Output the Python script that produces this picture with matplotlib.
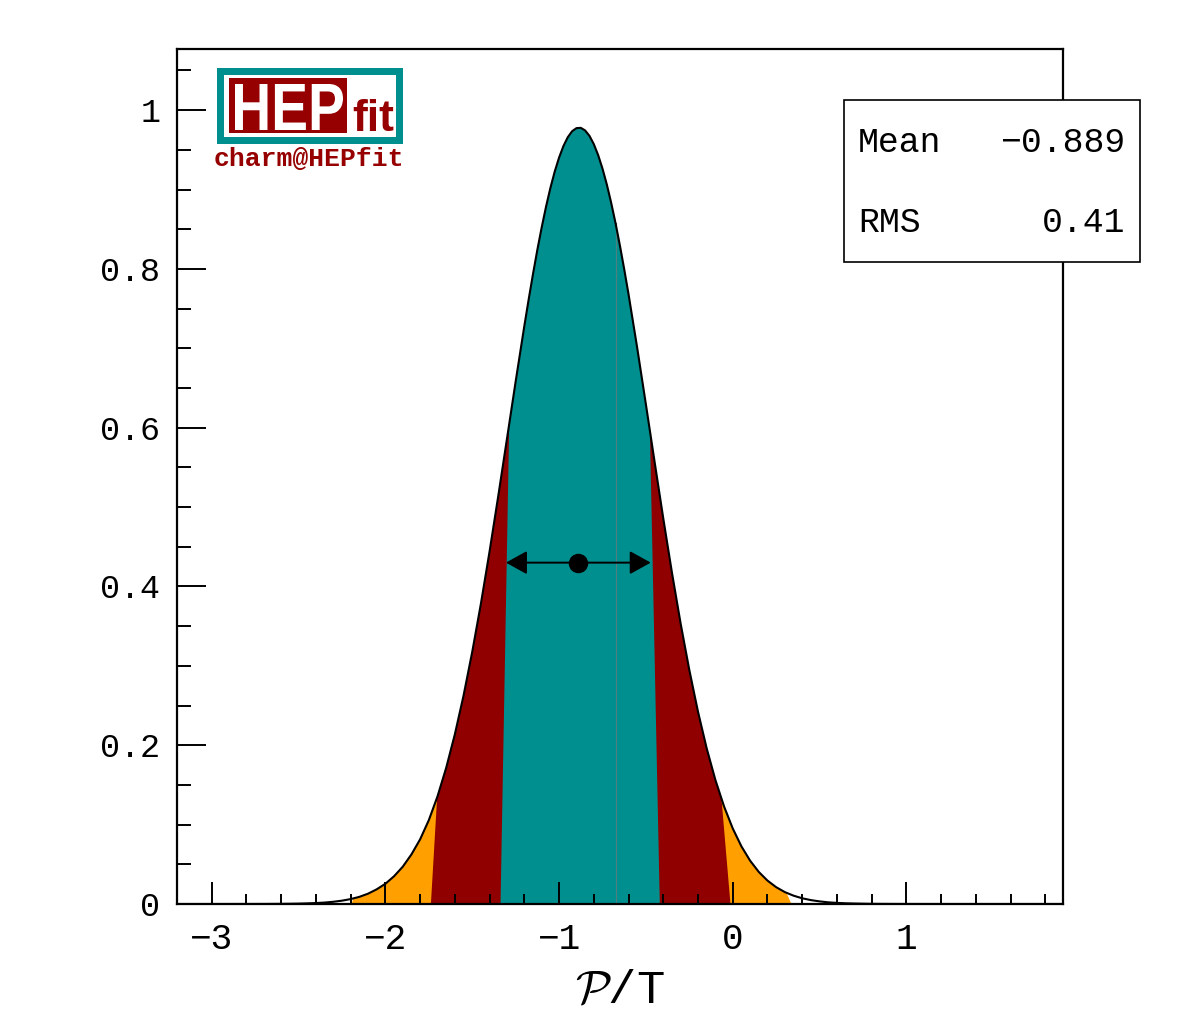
import numpy as np
import matplotlib.pyplot as plt
from matplotlib.ticker import MultipleLocator
from matplotlib.patches import Rectangle, Polygon, PathPatch
from matplotlib.textpath import TextPath
from matplotlib.font_manager import FontProperties
from matplotlib.transforms import Affine2D

plt.rcParams['mathtext.fontset'] = 'cm'

# posterior of P/T
x_pts = [-3.2, -3.0, -2.8, -2.7,
         -2.60, -2.55, -2.50, -2.45, -2.40, -2.35, -2.30, -2.25, -2.20, -2.15,
         -2.10, -2.05, -2.00, -1.95, -1.90, -1.85, -1.80, -1.75, -1.70, -1.65,
         -1.60, -1.55, -1.50, -1.45, -1.40, -1.35, -1.30, -1.25, -1.20, -1.175,
         -1.15, -1.125, -1.10, -1.075, -1.05, -1.025, -1.00, -0.975, -0.95, -0.925,
         -0.90, -0.875, -0.85, -0.825, -0.80, -0.775, -0.75, -0.725, -0.70, -0.675,
         -0.65, -0.625, -0.60, -0.55, -0.50, -0.45, -0.40, -0.35, -0.30, -0.25,
         -0.20, -0.15, -0.10, -0.05, 0.00, 0.05, 0.10, 0.15, 0.20, 0.25,
         0.30, 0.35, 0.40, 0.45, 0.50, 0.55, 0.60, 0.65, 0.70, 0.75, 0.80,
         0.9, 1.0, 1.2, 1.5, 1.9]
y_pts = [0.0, 0.0, 0.00003, 0.00007,
         0.0002, 0.0003, 0.0005, 0.0008, 0.0012, 0.0018, 0.0028, 0.0042, 0.0062, 0.0090,
         0.0130, 0.0185, 0.0255, 0.0350, 0.0470, 0.0625, 0.0815, 0.1056, 0.1356, 0.1715,
         0.2138, 0.2625, 0.3176, 0.3784, 0.4443, 0.5141, 0.5860, 0.6581, 0.7281, 0.7616,
         0.7937, 0.8241, 0.8523, 0.8784, 0.9019, 0.9226, 0.9402, 0.9547, 0.9658, 0.9734,
         0.9773, 0.9777, 0.9744, 0.9676, 0.9572, 0.9434, 0.9264, 0.9063, 0.8833, 0.8578,
         0.8298, 0.7998, 0.7681, 0.7004, 0.6293, 0.5571, 0.4858, 0.4174, 0.3533, 0.2948,
         0.2422, 0.1961, 0.1564, 0.1229, 0.0952, 0.0726, 0.0546, 0.0404, 0.0295, 0.0212,
         0.0150, 0.0105, 0.0072, 0.0049, 0.0033, 0.0021, 0.0014, 0.0009, 0.0006, 0.0004, 0.0002,
         0.0001, 0.00003, 0.0, 0.0, 0.0]

mean_val = -0.889
rms_val = 0.41
interval = (-1.306, -0.472)
marker_y = 0.43

# probability bands, widest first: edge at the axis and where it meets the curve
band_lo_bottom = [-2.194, -1.738, -1.337]
band_lo_top = [-2.185, -1.702, -1.287]
band_hi_top = [0.309, -0.065, -0.477]
band_hi_bottom = [0.338, -0.013, -0.420]
band_colors = ['#ffa000', '#900000', '#008f8f']
seam_x = -0.675

W, H = 1182, 1017


def fx(px):
    return px / W


def fy(py):
    return 1 - py / H


mono = 'Liberation Mono'
red = '#960000'
teal = '#008f8f'

fig = plt.figure(figsize=(W / 100, H / 100), dpi=100)
ax = fig.add_axes([fx(177), fy(904), fx(1062.7) - fx(177), fy(49) - fy(904)])

x = np.array(x_pts)
y = np.array(y_pts)
for blo, tlo, thi, bhi, c in zip(band_lo_bottom, band_lo_top, band_hi_top,
                                 band_hi_bottom, band_colors):
    inside = (x > tlo) & (x < thi)
    verts = [(blo, 0), (tlo, np.interp(tlo, x, y))]
    verts += list(zip(x[inside], y[inside]))
    verts += [(thi, np.interp(thi, x, y)), (bhi, 0)]
    ax.add_patch(Polygon(verts, closed=True, facecolor=c, edgecolor='none', zorder=1))

ax.plot([seam_x, seam_x], [0, np.interp(seam_x, x, y)], color='#4f7f7e', lw=0.8, zorder=1.5)
ax.plot(x, y, color='black', lw=1.5, zorder=3)

ax.annotate('', xy=(interval[0], marker_y), xytext=(interval[1], marker_y),
            arrowprops=dict(arrowstyle='<|-|>,head_length=0.65,head_width=0.36',
                            mutation_scale=20, color='black', lw=1.4,
                            shrinkA=0, shrinkB=0), zorder=4)
ax.plot([mean_val], [marker_y], 'o', color='black', ms=13, zorder=5)

ax.set_xlim(-3.2, 1.9)
ax.set_ylim(0, 1.077)
ax.set_xticks([-3, -2, -1, 0, 1])
ax.set_xticklabels(['\u22123', '\u22122', '\u22121', '0', '1'])
ax.xaxis.set_minor_locator(MultipleLocator(0.2))
ax.set_yticks([0, 0.2, 0.4, 0.6, 0.8, 1.0])
ax.set_yticklabels(['0', '0.2', '0.4', '0.6', '0.8', '1'])
ax.yaxis.set_minor_locator(MultipleLocator(0.05))
ax.tick_params(axis='x', which='major', direction='in', length=15.8, width=1.4,
               pad=13, labelsize=26, top=False)
ax.tick_params(axis='x', which='minor', direction='in', length=7.5, width=1.4, top=False)
ax.tick_params(axis='y', which='major', direction='in', length=21, width=1.4,
               pad=12, labelsize=24, right=False)
ax.tick_params(axis='y', which='minor', direction='in', length=10, width=1.4, right=False)
for lab in ax.get_xticklabels() + ax.get_yticklabels():
    lab.set_fontfamily(mono)
for s in ax.spines.values():
    s.set_linewidth(1.6)

ax.set_xlabel(r'$\mathcal{P}$/T', fontsize=34, fontfamily=mono, labelpad=8)

# stats box
fig.add_artist(Rectangle((fx(844), fy(262.3)), fx(1140) - fx(844), fy(100) - fy(262.3),
                         transform=fig.transFigure, facecolor='white',
                         edgecolor='black', lw=1.2))
fig.text(fx(858), fy(152), 'Mean', fontsize=25, fontfamily=mono, va='baseline')
fig.text(fx(1125), fy(152), f'{mean_val:.3f}'.replace('-', '\u2212'),
         fontsize=25, fontfamily=mono, va='baseline', ha='right')
fig.text(fx(858), fy(232), 'RMS', fontsize=25, fontfamily=mono, va='baseline')
fig.text(fx(1125), fy(232), f'{rms_val:.2f}', fontsize=25, fontfamily=mono,
         va='baseline', ha='right')

# HEPfit logo
fig.add_artist(Rectangle((fx(216.7), fy(144.3)), fx(403.3) - fx(216.7), fy(67.7) - fy(144.3),
                         transform=fig.transFigure, facecolor=teal, edgecolor='none'))
fig.add_artist(Rectangle((fx(223.7), fy(137.3)), fx(396.3) - fx(223.7), fy(74.7) - fy(137.3),
                         transform=fig.transFigure, facecolor='white', edgecolor='none'))
fig.add_artist(Rectangle((fx(229.3), fy(133.3)), fx(347.3) - fx(229.3), fy(78.3) - fy(133.3),
                         transform=fig.transFigure, facecolor=red, edgecolor='none'))
tp = TextPath((0, 0), 'HEP', size=100, prop=FontProperties(family='Liberation Sans', weight='bold'))
ext = tp.get_extents()
tr = (Affine2D().translate(-ext.x0, -ext.y0).scale(108 / ext.width, 46 / ext.height)
      .translate(235, H - 130).scale(1 / 100) + fig.dpi_scale_trans)
fig.add_artist(PathPatch(tp, transform=tr, facecolor='white', edgecolor='none'))
fig.text(fx(352), fy(131), 'fit', fontsize=32, fontfamily='Liberation Sans',
         fontweight='bold', color=red, va='baseline')
fig.text(fx(214), fy(166), 'charm@HEPfit', fontsize=19, fontfamily=mono,
         fontweight='bold', color=red, va='baseline')

fig.savefig('out.png', dpi=100, facecolor='white')
